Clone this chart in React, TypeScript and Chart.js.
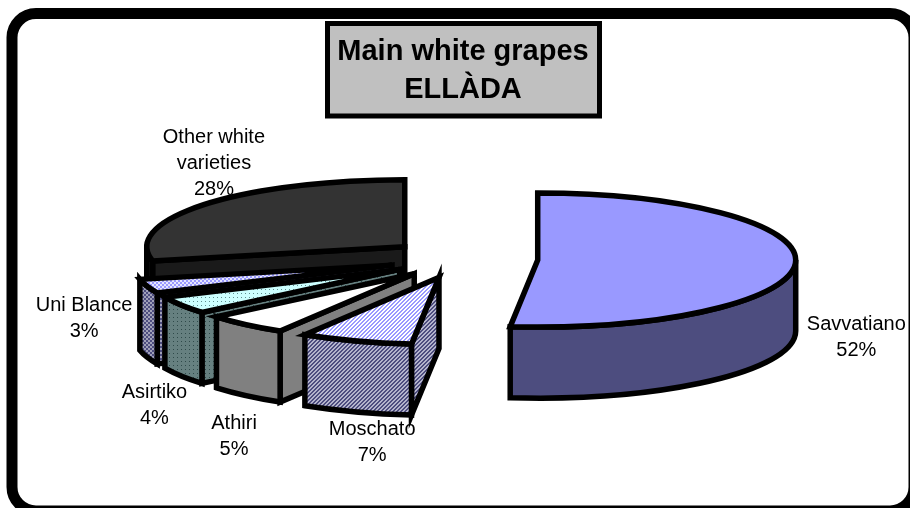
import React, { useEffect, useRef } from "react";
import { Chart, registerables } from "chart.js";

Chart.register(...registerables);

// Grape shares, in percent
const categories = ["Savvatiano", "Moschato", "Athiri", "Asirtiko", "Uni Blance", "Other white varieties"];
const shares = [51.7, 7.0, 5.2, 4.3, 3.4, 28.4];
const labelLines = [["Savvatiano"], ["Moschato"], ["Athiri"], ["Asirtiko"], ["Uni Blance"], ["Other white", "varieties"]];
const titleLines = ["Main white grapes", "ELLÀDA"];

const WIDTH = 910;
const HEIGHT = 508;
const RADIUS = 258;
const TILT = 0.26;
const DEPTH = 71;
const EXPLODE = 0.29;
const LABEL_FONT = '20px "Liberation Sans", Arial, sans-serif';
const LABEL_LINE = 26;
const TITLE_SIZE = 29;
const TITLE_LEADING = 1.3;
const TITLE_TOP = 33;
const TITLE_GAP = 10;
const PLOT_TOP = TITLE_TOP + titleLines.length * TITLE_SIZE * TITLE_LEADING + TITLE_GAP;
const labelOffsets = [
  [61, 74],
  [16, 102],
  [-12, 112],
  [-27, 100],
  [-63, 32],
  [10, -41],
];

type Paint = string | CanvasPattern;

function tile(size: number, draw: (g: CanvasRenderingContext2D) => void, ctx: CanvasRenderingContext2D): CanvasPattern {
  const c = document.createElement("canvas");
  c.width = size;
  c.height = size;
  draw(c.getContext("2d")!);
  return ctx.createPattern(c, "repeat")!;
}

function hatch(a: string, b: string, ctx: CanvasRenderingContext2D) {
  return tile(4, (g) => {
    g.fillStyle = a;
    g.fillRect(0, 0, 4, 4);
    g.fillStyle = b;
    for (let i = 0; i < 4; i++) {
      g.fillRect(i, 3 - i, 1, 1);
      g.fillRect((i + 1) % 4, 3 - i, 1, 1);
    }
  }, ctx);
}

function dots(a: string, b: string, ctx: CanvasRenderingContext2D) {
  return tile(4, (g) => {
    g.fillStyle = a;
    g.fillRect(0, 0, 4, 4);
    g.fillStyle = b;
    g.fillRect(1, 1, 1, 1);
  }, ctx);
}

function checks(a: string, b: string, ctx: CanvasRenderingContext2D) {
  return tile(4, (g) => {
    g.fillStyle = a;
    g.fillRect(0, 0, 4, 4);
    g.fillStyle = b;
    g.fillRect(0, 0, 2, 2);
    g.fillRect(2, 2, 2, 2);
  }, ctx);
}

function slicePaints(ctx: CanvasRenderingContext2D): { top: Paint; side: Paint }[] {
  return [
    { top: "#9999ff", side: "#4d4d7f" },
    { top: hatch("#ffffff", "#9999ff", ctx), side: hatch("#b4b4cc", "#4d4d7f", ctx) },
    { top: "#ffffff", side: "#808080" },
    { top: dots("#ccffff", "#5f8f8f", ctx), side: dots("#668080", "#2f4a4a", ctx) },
    { top: checks("#9999ff", "#e6e6ff", ctx), side: checks("#4d4d7f", "#a0a0b8", ctx) },
    { top: "#333333", side: "#1a1a1a" },
  ];
}

// Rounded frame and the grey plate behind the title
const framePlugin = {
  id: "frame",
  beforeDraw(chart: Chart) {
    const c = chart.ctx;
    c.save();
    c.fillStyle = "#ffffff";
    c.fillRect(0, 0, WIDTH, HEIGHT);
    c.strokeStyle = "#000000";
    c.lineWidth = 11;
    c.beginPath();
    c.roundRect(12, 13.5, 902, 497.5, 24);
    c.stroke();
    c.fillStyle = "#c0c0c0";
    c.lineWidth = 5;
    c.beginPath();
    c.rect(327.5, 23.5, 272, 92.5);
    c.fill();
    c.stroke();
    c.restore();
  },
};

// Draws the pie's arc elements as tilted, exploded solid wedges
const solidPiePlugin = {
  id: "solidPie",
  beforeDatasetDraw(chart: Chart) {
    const c = chart.ctx;
    const paints = slicePaints(c);
    const arcs = chart.getDatasetMeta(0).data as any[];
    const geo = arcs.map((arc) => {
      const { x, y, startAngle, endAngle, outerRadius } = arc.getProps(["x", "y", "startAngle", "endAngle", "outerRadius"], true);
      const mid = (startAngle + endAngle) / 2;
      const off = arc.options.offset as number;
      return { ax: x + off * Math.cos(mid), ay: y + off * TILT * Math.sin(mid), a0: startAngle, a1: endAngle, r: outerRadius, mid };
    });

    c.save();
    c.strokeStyle = "#000000";
    c.lineWidth = 5.5;
    c.lineJoin = "miter";
    c.miterLimit = 6;

    for (let i = arcs.length - 1; i >= 0; i--) {
      const { ax, ay, a0, a1, r } = geo[i];
      const ry = r * TILT;
      const px = (t: number) => ax + r * Math.cos(t);
      const py = (t: number) => ay + ry * Math.sin(t);

      // Radial wall along the leading edge, visible when it faces the viewer
      if (Math.cos(a0) < 0) {
        c.fillStyle = paints[i].side;
        c.beginPath();
        c.moveTo(ax, ay);
        c.lineTo(px(a0), py(a0));
        c.lineTo(px(a0), py(a0) + DEPTH);
        c.lineTo(ax, ay + DEPTH);
        c.closePath();
        c.fill();
        c.stroke();
      }

      // Curved outer wall: only the front half of the rim
      const from = Math.max(a0, 0);
      const to = Math.min(a1, Math.PI);
      if (to > from) {
        c.fillStyle = paints[i].side;
        c.beginPath();
        c.ellipse(ax, ay, r, ry, 0, from, to);
        c.ellipse(ax, ay + DEPTH, r, ry, 0, to, from, true);
        c.closePath();
        c.fill();
        c.stroke();
      }

      // Top face
      c.fillStyle = paints[i].top;
      c.beginPath();
      c.moveTo(ax, ay);
      c.ellipse(ax, ay, r, ry, 0, a0, a1);
      c.closePath();
      c.fill();
      c.stroke();
    }

    // Category and share labels sit above the solids
    c.fillStyle = "#000000";
    c.font = LABEL_FONT;
    c.textAlign = "center";
    c.textBaseline = "middle";
    geo.forEach((g, i) => {
      const bx = g.ax + g.r * Math.cos(g.mid) + labelOffsets[i][0];
      const by = g.ay + g.r * TILT * Math.sin(g.mid) + labelOffsets[i][1];
      const lines = [...labelLines[i], `${Math.round(shares[i])}%`];
      lines.forEach((line, k) => {
        c.fillText(line, bx, by + (k - (lines.length - 1) / 2) * LABEL_LINE);
      });
    });
    c.restore();
    return false;
  },
};

export default function App() {
  const ref = useRef<HTMLCanvasElement>(null);

  useEffect(() => {
    const chart = new Chart(ref.current!, {
      type: "pie",
      data: {
        labels: categories,
        datasets: [{ data: shares, offset: RADIUS * EXPLODE, borderWidth: 0 }],
      },
      options: {
        responsive: false,
        animation: false,
        events: [],
        radius: RADIUS,
        layout: { padding: { left: 16, bottom: PLOT_TOP - 10 } },
        plugins: {
          legend: { display: false },
          tooltip: { enabled: false },
          title: {
            display: true,
            text: titleLines,
            color: "#000000",
            fullSize: false,
            font: { family: '"Liberation Sans", Arial, sans-serif', size: TITLE_SIZE, weight: "bold", lineHeight: TITLE_LEADING },
            padding: { top: TITLE_TOP, bottom: TITLE_GAP },
          },
        },
      } as any,
      plugins: [framePlugin, solidPiePlugin],
    });
    return () => chart.destroy();
  }, []);

  return (
    <div style={{ position: "fixed", left: 0, top: 0, width: WIDTH, height: HEIGHT }}>
      <canvas ref={ref} width={WIDTH} height={HEIGHT} style={{ display: "block" }} />
    </div>
  );
}
